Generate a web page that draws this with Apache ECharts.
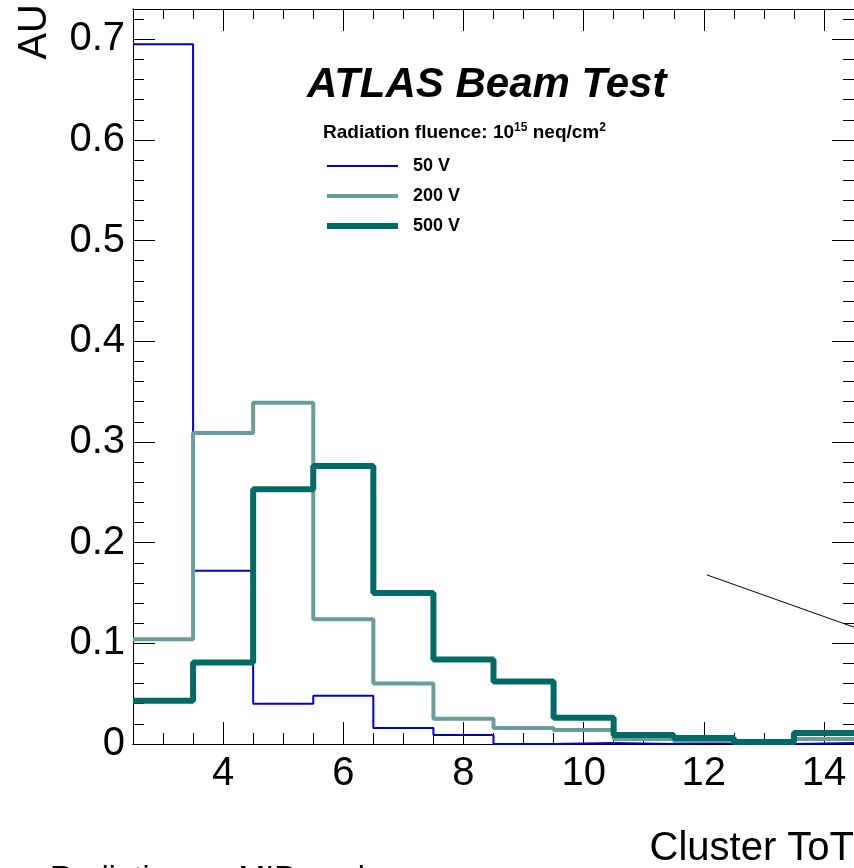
<!DOCTYPE html>
<html>
<head>
<meta charset="utf-8">
<script src="https://cdn.jsdelivr.net/npm/echarts@6/dist/echarts.min.js"></script>
<style>
html, body { margin: 0; padding: 0; background: #fff; }
#main { width: 854px; height: 868px; }
</style>
</head>
<body>
<div id="main"></div>
<script>
// cluster ToT bins (bin centres), AU per bin
var binCenters = [3, 4, 5, 6, 7, 8, 9, 10, 11, 12, 13, 14];
var au50V  = [0.695, 0.172, 0.040, 0.048, 0.016, 0.009, 0.000, 0.001, 0.000, 0.001, 0.000, 0.001];
var au200V = [0.104, 0.309, 0.339, 0.124, 0.060, 0.025, 0.016, 0.014, 0.005, 0.003, 0.001, 0.005];
var au500V = [0.043, 0.081, 0.253, 0.276, 0.150, 0.084, 0.062, 0.026, 0.009, 0.006, 0.002, 0.011];
var seriesNames = ['50 V', '200 V', '500 V'];

var xMajor = [4, 6, 8, 10, 12, 14];
var xMinor = [3, 3.5, 4.5, 5, 5.5, 6.5, 7, 7.5, 8.5, 9, 9.5, 10.5, 11, 11.5, 12.5, 13, 13.5, 14.5];
var yMajor = [0, 0.1, 0.2, 0.3, 0.4, 0.5, 0.6, 0.7];
var yMinor = [0.02, 0.04, 0.06, 0.08, 0.12, 0.14, 0.16, 0.18, 0.22, 0.24, 0.26, 0.28,
              0.32, 0.34, 0.36, 0.38, 0.42, 0.44, 0.46, 0.48, 0.52, 0.54, 0.56, 0.58,
              0.62, 0.64, 0.66, 0.68, 0.72];

// thin annotation line (data coords)
var guideLine = [[12.05, 0.168], [14.5, 0.116]];

var FONT = '"Liberation Sans", Arial, Helvetica, sans-serif';
var colors = ['#0000dc', '#699d9a', '#006b66'];
var widths = [2, 4, 6];

// histogram as steps: one point per left bin edge + closing right edge
function histSteps(vals) {
    var pts = [];
    for (var i = 0; i < binCenters.length; i++) {
        pts.push([binCenters[i] - 0.5, vals[i]]);
    }
    pts.push([binCenters[binCenters.length - 1] + 0.5, vals[vals.length - 1]]);
    return pts;
}

function xAx(pos, ticks, len, labels) {
    return {
        type: 'value', position: pos, min: 2.5, max: 14.5, gridIndex: 0,
        axisLine: {show: true, onZero: false, lineStyle: {color: '#000', width: 1}},
        axisTick: {show: true, inside: true, length: len, customValues: ticks, lineStyle: {color: '#000', width: 1}},
        axisLabel: labels ? {show: true, customValues: xMajor, fontSize: 40, fontFamily: FONT, color: '#000', margin: 10} : {show: false},
        splitLine: {show: false}
    };
}
function yAx(pos, ticks, len, labels) {
    return {
        type: 'value', position: pos, min: 0, max: 0.73, gridIndex: 0,
        axisLine: {show: true, onZero: false, lineStyle: {color: '#000', width: 1}},
        axisTick: {show: true, inside: true, length: len, customValues: ticks, lineStyle: {color: '#000', width: 1}},
        axisLabel: labels ? {show: true, customValues: yMajor, fontSize: 40, fontFamily: FONT, color: '#000', margin: 8,
                             formatter: function (v) { return v === 0 ? '0' : v.toFixed(1); }} : {show: false},
        splitLine: {show: false}
    };
}

var myChart = echarts.init(document.getElementById('main'));

var legendData = seriesNames.map(function (n, i) {
    return {name: n, icon: 'path://M0,0H71V' + widths[i] + 'H0Z'};
});

var series = seriesNames.map(function (n, i) {
    return {
        name: n, type: 'line', step: 'end', symbol: 'none', z: 3 + i,
        data: histSteps([au50V, au200V, au500V][i]),
        itemStyle: {color: colors[i]},
        lineStyle: {color: colors[i], width: widths[i]}
    };
});
series[2].markLine = {
    silent: true, symbol: 'none', label: {show: false},
    lineStyle: {color: '#000', width: 1, type: 'solid'},
    data: [[{coord: guideLine[0]}, {coord: guideLine[1]}]]
};

var option = {
    animation: false,
    backgroundColor: '#fff',
    grid: {left: 133, top: 9, right: -1, bottom: 124, containLabel: false},
    xAxis: [
        xAx('bottom', xMajor, 22, true),
        xAx('bottom', xMinor, 11, false),
        xAx('top', xMajor, 22, false),
        xAx('top', xMinor, 10, false)
    ],
    yAxis: [
        yAx('left', yMajor, 22, true),
        yAx('left', yMinor, 11, false),
        yAx('right', yMajor, 22, false),
        yAx('right', yMinor, 11, false)
    ],
    legend: {
        data: legendData,
        orient: 'vertical',
        left: 322, top: 152,
        itemWidth: 71, itemHeight: 14, itemGap: 12,
        symbolKeepAspect: true,
        textStyle: {fontSize: 18, fontWeight: 'bold', fontFamily: FONT, color: '#000', padding: [0, 0, 0, 10]}
    },
    title: [{
        text: 'ATLAS Beam Test',
        left: 302, top: 59,
        textStyle: {fontSize: 42, fontWeight: 'bold', fontStyle: 'italic', fontFamily: FONT, color: '#000'}
    }, {
        text: 'Radiation fluence: 10{sup|15} neq/cm{sup|2}',
        left: 318, top: 117,
        textStyle: {
            fontSize: 19, fontWeight: 'bold', fontFamily: FONT, color: '#000',
            rich: {sup: {fontSize: 12, fontWeight: 'bold', fontFamily: FONT, color: '#000', verticalAlign: 'top', padding: [0, 0, 10, 0]}}
        }
    }],
    graphic: [{
        type: 'text', x: 35, y: 4, rotation: Math.PI / 2,
        style: {text: 'AU', font: '40px ' + FONT, fill: '#000', align: 'right', verticalAlign: 'middle'}
    }, {
        type: 'text', x: 854, y: 849,
        style: {text: 'Cluster ToT', font: '40px ' + FONT, fill: '#000', align: 'right', verticalAlign: 'middle'}
    }, {
        type: 'text', x: 50, y: 863,
        style: {text: 'Radiation on MIP peak', font: '32px ' + FONT, fill: '#000', align: 'left', verticalAlign: 'top'}
    }],
    series: series
};

myChart.setOption(option);
</script>
</body>
</html>
